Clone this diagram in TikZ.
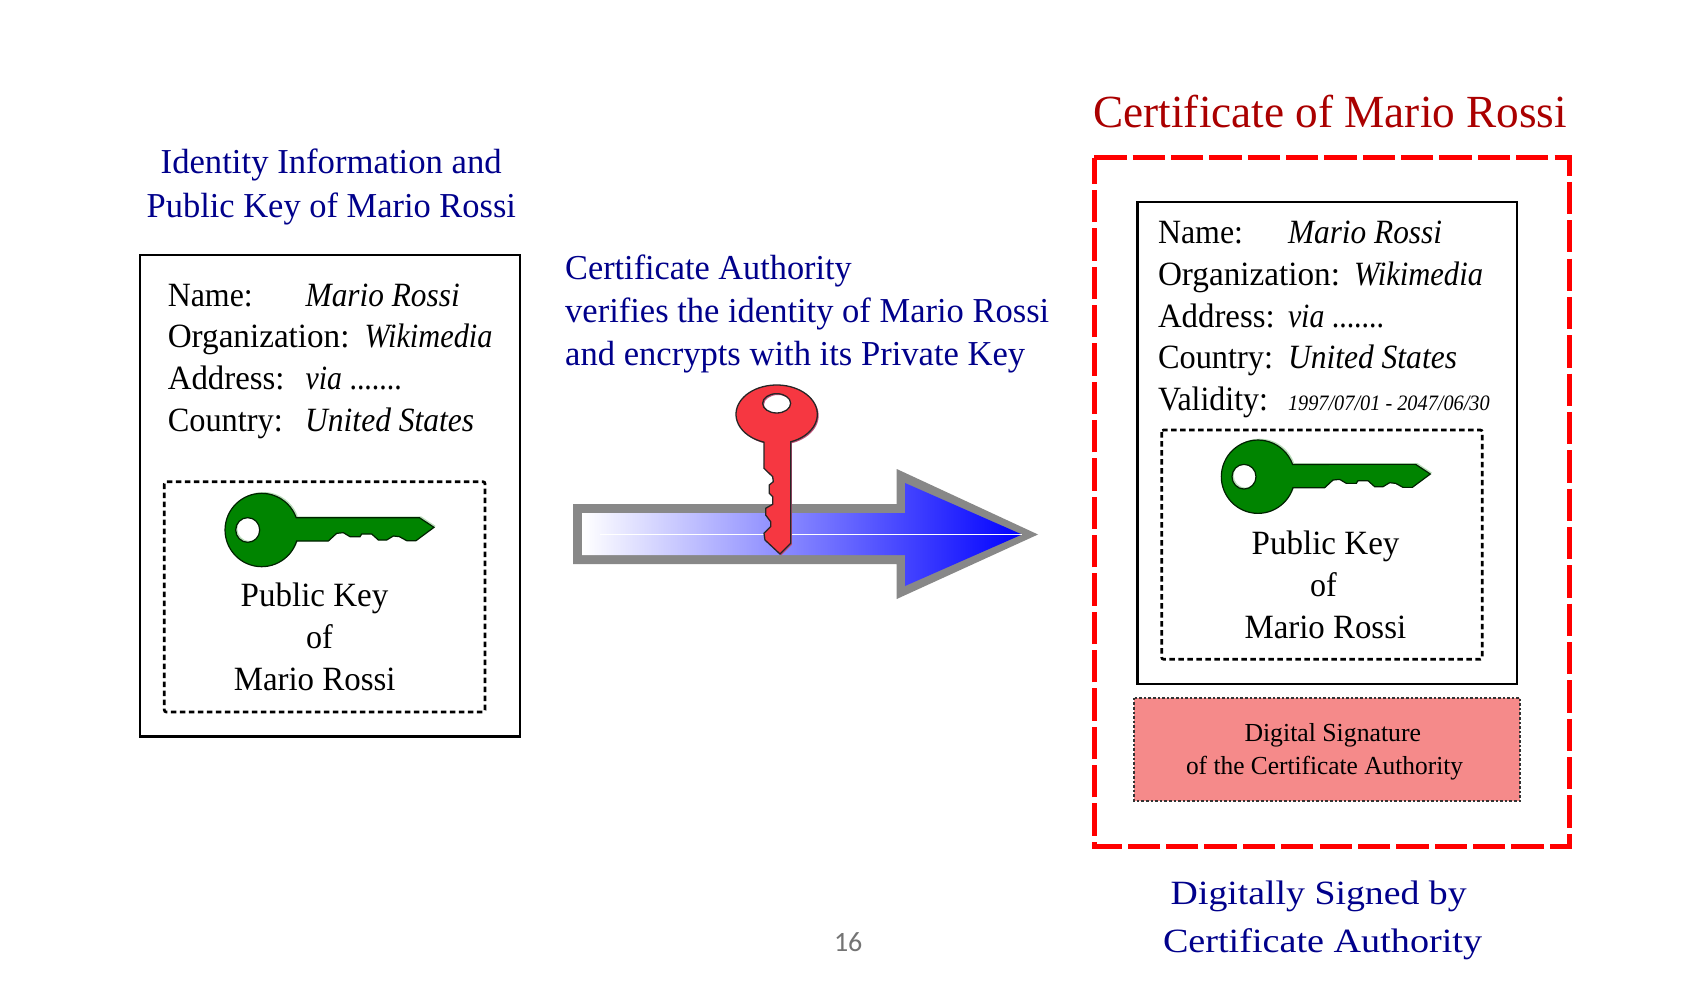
\documentclass[tikz,border=0pt]{standalone}
\usepackage{fontspec}
\usepackage{graphicx}
\setmainfont{Liberation Serif}
\newfontfamily\pagefont{Carlito}
\definecolor{navytext}{RGB}{0,0,139}
\definecolor{certred}{RGB}{170,0,0}
\definecolor{pinkfill}{RGB}{245,138,138}
\definecolor{arrowgray}{RGB}{136,136,136}
\definecolor{keygreen}{RGB}{0,132,0}
\definecolor{keyred}{RGB}{246,55,65}
\newcommand{\fw}[2]{\resizebox{#1pt}{\height}{#2}}
\newcommand{\fs}[1]{\fontsize{#1}{#1}\selectfont}
\newcommand{\keyhole}{(-42,0) ellipse [x radius=36,y radius=37]}
\newcommand{\greenkeypath}{(104.9,33.1) arc[start angle=17.5,end angle=340.4,radius=110]
  -- (473,-37) -- (517,-8) -- (463,32) -- (435,32) -- (413,20) -- (395,18) -- (375,30)
  -- (350,30) -- (330,12) -- (300,12) -- (295,20) -- (265,20) -- (245,8) -- (225,10)
  -- (200,33) -- cycle \keyhole}
\newcommand{\redkeypath}{(692,215.6) arc[start angle=69.9,end angle=-251.9,x radius=122,y radius=88]
  -- (612,295) -- (638,320) -- (640,335) -- (628,345) -- (628,370) -- (638,380) -- (638,403)
  -- (617,415) -- (617,435) -- (632,455) -- (632,470) -- (612,490) -- (615,510) -- (660,552)
  -- (692,520) -- cycle (650,100) ellipse [x radius=42,y radius=29]}
\tikzset{
  x=1pt,y=-1pt,
  lbl/.style={anchor=base west,inner sep=0pt,outer sep=0pt},
  body/.style={lbl,font=\fs{34},text=black},
  bodyit/.style={lbl,font=\fs{34}\itshape,text=black},
  head/.style={lbl,font=\fs{35},text=navytext},
  outerbox/.style={draw=black,line width=2.9pt,fill=white},
  keybox/.style={draw=black,line width=2.7pt,dash pattern=on 5.5pt off 3.5pt,rounded corners=2pt},
  greenkey/.pic={
    \begin{scope}[x=.3333pt,y=-.3333pt]
      \fill[keygreen!60!white,opacity=.45,even odd rule,shift={(5,-4)}] \greenkeypath;
      \filldraw[fill=keygreen,draw=black!75!keygreen,line width=1.2pt,even odd rule] \greenkeypath;
    \end{scope}
  }
}
\begin{document}
\begin{tikzpicture}
\useasboundingbox (0,0) rectangle (1694,1000);
\fill[white] (0,0) rectangle (1694,1000);

% left column
\node[head] (idA) at (160.7,173.4) {\fw{341}{Identity Information and}};
\node[head] (idB) at (146.7,218) {\fw{369.3}{Public Key of Mario Rossi}};
\draw[outerbox] (140,255) rectangle (520,736.7);
\node[body] (lnameK) at (167.8,306) {\fw{85}{Name:}};
\node[bodyit] (lnameV) at (305.7,306) {\fw{154}{Mario Rossi}};
\node[body] (lorgK) at (167.8,347.5) {\fw{181.7}{Organization:}};
\node[bodyit] (lorgV) at (364.5,347.5) {\fw{128}{Wikimedia}};
\node[body] (laddK) at (167.8,389) {\fw{116.7}{Address:}};
\node[bodyit] (laddV) at (305.7,389) {\fw{96}{via \upshape .......}};
\node[body] (lctyK) at (167.8,431) {\fw{115}{Country:}};
\node[bodyit] (lctyV) at (305.2,431) {\fw{169}{United States}};
\draw[keybox] (164.3,481.7) rectangle (485,712);
\pic at (261.7,530) {greenkey};
\node[body] (lpkA) at (240.7,606.3) {\fw{147.7}{Public Key}};
\node[body] (lpkB) at (306,648.7) {\fw{26.7}{of}};
\node[body] (lpkC) at (233.8,690.3) {\fw{161.7}{Mario Rossi}};

% middle
\node[head] (caA) at (565.2,279.8) {\fw{286.5}{Certificate Authority}};
\node[head] (caB) at (565.2,323) {\fw{484}{verifies the identity of Mario Rossi}};
\node[head] (caC) at (565.2,365.8) {\fw{460}{and encrypts with its Private Key}};
\fill[arrowgray] (573,504) -- (896.7,504) -- (896.7,469) -- (1038,534.5) -- (896.7,599) -- (896.7,564) -- (573,564) -- cycle;
\shade[left color=white,right color=blue] (582,513) -- (905,513) -- (905,483) -- (1022,534.5) -- (905,586) -- (905,555) -- (582,555) -- cycle;
\draw[white,line width=.9pt] (600,534.4) -- (1022,534.4);
\begin{scope}[shift={(560,370)},x=.3333pt,y=-.3333pt]
  \fill[even odd rule,fill={rgb,255:red,190;green,80;blue,120},shift={(4,4)}] \redkeypath;
  \filldraw[even odd rule,fill=keyred,draw=black!85,line width=1.3pt] \redkeypath;
\end{scope}

% right column
\node[lbl,font=\fs{46},text=certred] (certT) at (1093.5,128) {\fw{473.5}{Certificate of Mario Rossi}};
\draw[red,line width=5pt,dash pattern=on 32.3pt off 6.05pt,dash phase=0pt,miter limit=10] (1094.3,158) -- (1569,158) -- (1569,846.7) -- (1094.3,846.7) -- cycle;
\draw[outerbox] (1137.7,202) rectangle (1517,684);
\node[body] (rnameK) at (1158,244) {\fw{85}{Name:}};
\node[bodyit] (rnameV) at (1288,244) {\fw{154}{Mario Rossi}};
\node[body] (rorgK) at (1158,285.5) {\fw{182}{Organization:}};
\node[bodyit] (rorgV) at (1354,285.5) {\fw{129}{Wikimedia}};
\node[body] (raddK) at (1158,327.3) {\fw{116.7}{Address:}};
\node[bodyit] (raddV) at (1288,327.3) {\fw{96}{via \upshape .......}};
\node[body] (rctyK) at (1158,368.3) {\fw{115}{Country:}};
\node[bodyit] (rctyV) at (1288,368.3) {\fw{169}{United States}};
\node[body] (rvalK) at (1158,410.3) {\fw{110}{Validity:}};
\node[lbl,font=\fs{22}\itshape] (rvalV) at (1288,410) {\fw{201.7}{1997/07/01 - 2047/06/30}};
\draw[keybox] (1161.7,430) rectangle (1482.3,659.3);
\pic at (1258,476.7) {greenkey};
\node[body] (rpkA) at (1251.7,554.3) {\fw{147.7}{Public Key}};
\node[body] (rpkB) at (1310,596.7) {\fw{26.7}{of}};
\node[body] (rpkC) at (1244.5,638.5) {\fw{161.7}{Mario Rossi}};
\filldraw[fill=pinkfill,draw=black!80,line width=2.3pt,dash pattern=on 2.6pt off 2pt] (1134.3,697.7) rectangle (1520,801);
\node[lbl,font=\fs{26}] (sigA) at (1244.5,741.5) {\fw{176.5}{Digital Signature}};
\node[lbl,font=\fs{26}] (sigB) at (1186,774.3) {\fw{277}{of the Certificate Authority}};
\node[head,font=\fs{34}] (dsA) at (1170.7,904) {\fw{296}{Digitally Signed by}};
\node[head,font=\fs{34}] (dsB) at (1163,952.9) {\fw{319}{Certificate Authority}};

% page number
\node[lbl,font=\pagefont\fs{28},text=arrowgray!85!black] (pageno) at (834,951.5) {16};
\end{tikzpicture}
\end{document}
